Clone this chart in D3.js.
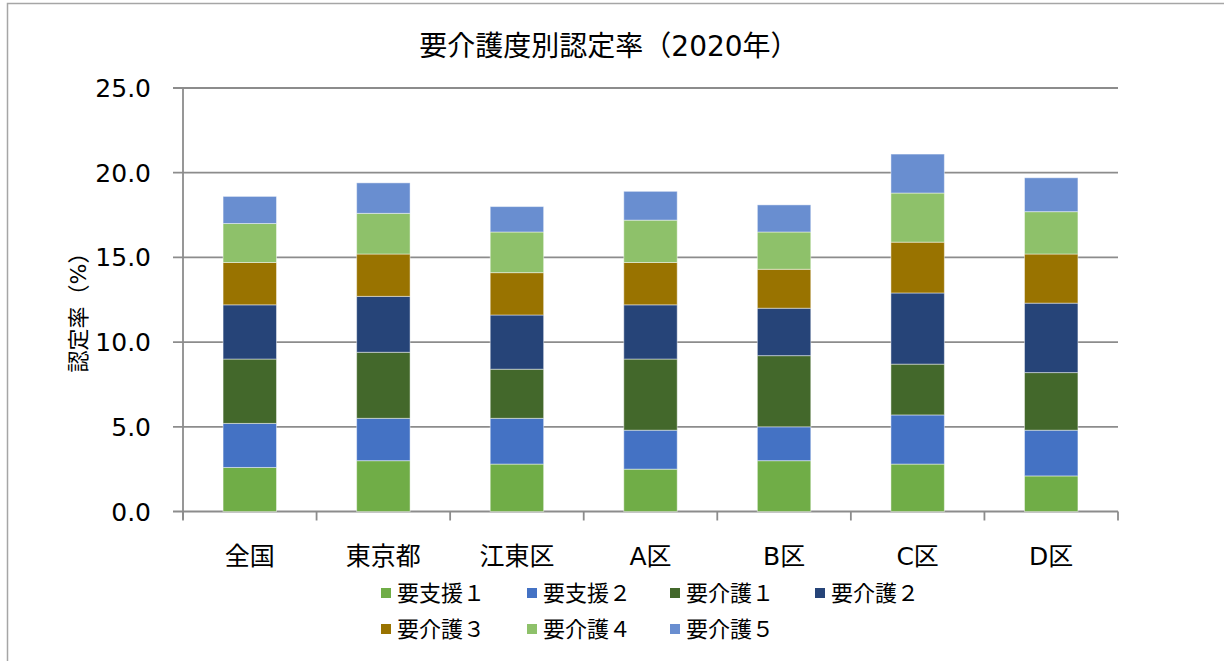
<!DOCTYPE html>
<html><head><meta charset="utf-8">
<script src="https://cdn.jsdelivr.net/npm/d3@7"></script>
<style>
body{margin:0;background:#fff;}
svg{display:block;font-family:"DejaVu Sans","Noto Sans CJK JP",sans-serif;}
</style></head>
<body><svg id="c" width="1224" height="661"></svg>
<script>
const categories = ["全国","東京都","江東区","A区","B区","C区","D区"];
const seriesNames = ["要支援１","要支援２","要介護１","要介護２","要介護３","要介護４","要介護５"];
const s1 = [2.6, 3.0, 2.8, 2.5, 3.0, 2.8, 2.1];
const s2 = [2.6, 2.5, 2.7, 2.3, 2.0, 2.9, 2.7];
const s3 = [3.8, 3.9, 2.9, 4.2, 4.2, 3.0, 3.4];
const s4 = [3.2, 3.3, 3.2, 3.2, 2.8, 4.2, 4.1];
const s5 = [2.5, 2.5, 2.5, 2.5, 2.3, 3.0, 2.9];
const s6 = [2.3, 2.4, 2.4, 2.5, 2.2, 2.9, 2.5];
const s7 = [1.6, 1.8, 1.5, 1.7, 1.6, 2.3, 2.0];
const yTicks = [0, 5, 10, 15, 20, 25];
const colors = ["#70AD47","#4472C4","#43682B","#264478","#997300","#8EC16A","#698ED0"];

const seriesVals = [s1,s2,s3,s4,s5,s6,s7];
const rows = categories.map((c,i)=>{const o={cat:c}; seriesNames.forEach((n,j)=>o[n]=seriesVals[j][i]); return o;});
const stack = d3.stack().keys(seriesNames)(rows);

const svg = d3.select("#c");
const L=183, R=1118, T=88, B=511.5;
const x = d3.scaleBand().domain(categories).range([L,R]).paddingInner(0.6).paddingOuter(0.3);
const xb = d3.scaleBand().domain(categories).range([L,R]);
const y = d3.scaleLinear().domain([0,25]).range([B,T]);

// frame
svg.append("path").attr("d","M7.5,661 V3.5 H1224").attr("fill","none").attr("stroke","#a6a6a6").attr("stroke-width",1.5);

// gridlines
const gc="#8c8c8c";
svg.append("g").selectAll("line").data(yTicks).join("line")
  .attr("x1",L-10).attr("x2",R).attr("y1",d=>y(d)).attr("y2",d=>y(d))
  .attr("stroke",gc).attr("stroke-width",1.8);

// y labels
svg.append("g").selectAll("text").data(yTicks).join("text")
  .attr("x",151).attr("y",d=>y(d)+9).attr("text-anchor","end")
  .attr("font-size",25).attr("fill","#000").text(d=>d.toFixed(1));

// bars
svg.append("g").selectAll("g").data(stack).join("g")
  .attr("fill",(d,i)=>colors[i])
  .selectAll("rect").data(d=>d).join("rect")
  .attr("x",d=>x(d.data.cat)).attr("width",x.bandwidth())
  .attr("y",d=>y(d[1])).attr("height",d=>y(d[0])-y(d[1]))
  .attr("stroke","rgba(255,255,255,0.45)").attr("stroke-width",1);

// y axis line
svg.append("line").attr("x1",L).attr("x2",L).attr("y1",T).attr("y2",B+8).attr("stroke",gc).attr("stroke-width",1.8);
// x axis ticks
const bounds = categories.map(c=>xb(c)).concat([R]);
svg.append("g").selectAll("line").data(bounds).join("line")
  .attr("x1",d=>d).attr("x2",d=>d).attr("y1",B).attr("y2",B+9)
  .attr("stroke",gc).attr("stroke-width",1.8);

// category labels
svg.append("g").selectAll("text").data(categories).join("text")
  .attr("x",d=>xb(d)+xb.bandwidth()/2).attr("y",565).attr("text-anchor","middle")
  .attr("font-size",25).attr("fill","#000").text(d=>d);

// title
svg.append("text").attr("x",609).attr("y",56).attr("text-anchor","middle")
  .attr("font-size",28).attr("fill","#000").text("要介護度別認定率（2020年）");

// y axis title
svg.append("text").attr("transform","translate(86,307) rotate(-90)").attr("text-anchor","middle")
  .attr("font-size",22).attr("fill","#000").text("認定率（%）");

// legend
const legX=[381,527,670,815];
const leg = svg.append("g").selectAll("g").data(seriesNames).join("g")
  .attr("transform",(d,i)=>`translate(${legX[i%4]},${i<4?588:624})`);
leg.append("rect").attr("width",10).attr("height",10).attr("fill",(d,i)=>colors[i]);
leg.append("text").attr("x",16).attr("y",13).attr("font-size",22).attr("fill","#000").text(d=>d);
</script></body></html>
